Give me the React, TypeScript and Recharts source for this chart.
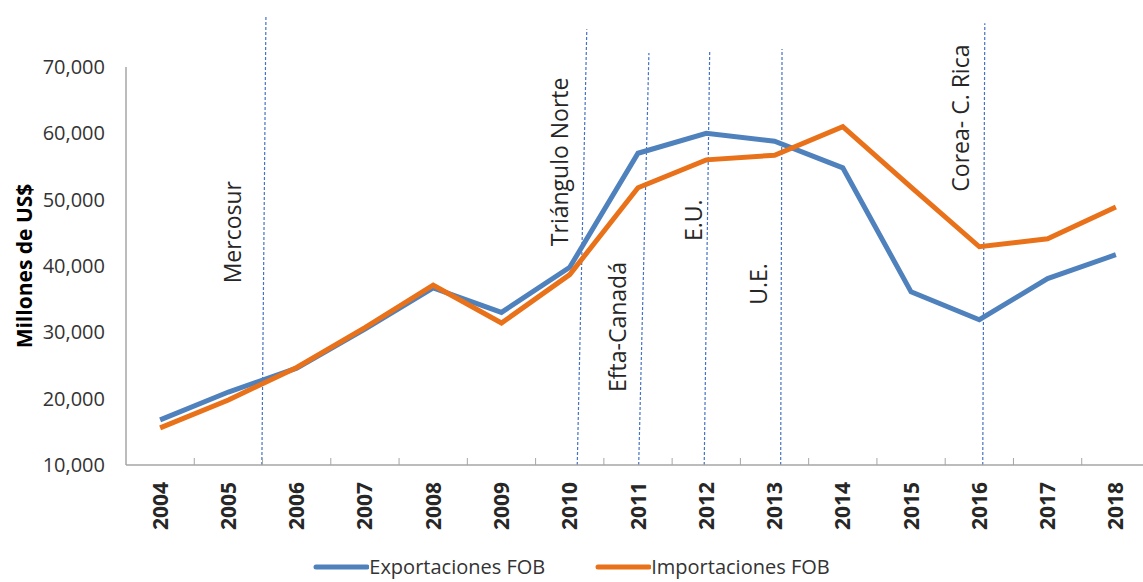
import { LineChart, Line, XAxis, YAxis, ReferenceLine, ReferenceDot, Legend } from 'recharts';

const years = [2004, 2005, 2006, 2007, 2008, 2009, 2010, 2011, 2012, 2013, 2014, 2015, 2016, 2017, 2018];
const exportaciones = [16800, 21000, 24600, 30500, 36700, 33000, 39800, 57000, 60000, 58800, 54800, 36100, 31900, 38100, 41700];
const importaciones = [15600, 19800, 24700, 30700, 37100, 31400, 38700, 51800, 56000, 56700, 61000, 51900, 42900, 44100, 48900];
const yTicks = [10000, 20000, 30000, 40000, 50000, 60000, 70000];

// acuerdos comerciales: fecha aproximada (año fraccional), extremo superior de la línea
const acuerdos = ['Mercosur', 'Triángulo Norte', 'Efta-Canadá', 'E.U.', 'U.E.', 'Corea- C. Rica'];
const acuerdoBase = [2005.49, 2010.11, 2011.01, 2011.97, 2013.09, 2016.05];
const acuerdoTope = [2005.55, 2010.25, 2011.16, 2012.05, 2013.11, 2016.08];
const acuerdoAlto = [77800, 75700, 72100, 72300, 72700, 76600];
// donde va el texto de cada acuerdo
const etiquetaX = [2005.07, 2009.86, 2010.71, 2011.81, 2012.77, 2015.73];
const etiquetaY = [45100, 55700, 30800, 46900, 37300, 62300];

const data = years.map((year, i) => ({
  year,
  exportaciones: exportaciones[i],
  importaciones: importaciones[i],
}));

const BLUE = '#4F81BD';
const ORANGE = '#E8711A';
const FONT = '"Open Sans", sans-serif';

const xTicks = [...years, ...years.slice(0, -1).map(y => y + 0.5)].sort((a, b) => a - b);

function XTick(props: any) {
  const { x, y, payload } = props;
  if (!Number.isInteger(payload.value)) {
    return <line x1={x} y1={y} x2={x} y2={y - 7} stroke="#a6a6a6" strokeWidth={1} />;
  }
  return (
    <text
      x={x}
      y={y + 17}
      dy="0.36em"
      textAnchor="end"
      transform={`rotate(-90, ${x}, ${y + 17})`}
      fontFamily={FONT}
      fontSize={21}
      fontWeight="bold"
      fill="#262626"
    >
      {payload.value}
    </text>
  );
}

function AcuerdoLabel(text: string) {
  return (props: any) => {
    const { viewBox } = props;
    const cx = viewBox.x + viewBox.width / 2;
    const cy = viewBox.y + viewBox.height / 2;
    return (
      <text
        x={cx}
        y={cy}
        dy="0.36em"
        textAnchor="middle"
        transform={`rotate(-90, ${cx}, ${cy})`}
        fontFamily={FONT}
        fontSize={23}
        fill="#262626"
      >
        {text}
      </text>
    );
  };
}

function LegendContent() {
  const items = [
    { name: 'Exportaciones FOB', color: BLUE },
    { name: 'Importaciones FOB', color: ORANGE },
  ];
  return (
    <div style={{ display: 'flex', justifyContent: 'center', gap: 50, height: 30, alignItems: 'center' }}>
      {items.map(it => (
        <div key={it.name} style={{ display: 'flex', alignItems: 'center' }}>
          <svg width={56} height={10}>
            <line x1={3} y1={5} x2={54} y2={5} stroke={it.color} strokeWidth={5} strokeLinecap="round" />
          </svg>
          <span style={{ fontFamily: FONT, fontSize: 20, color: '#333333', lineHeight: '30px' }}>{it.name}</span>
        </div>
      ))}
    </div>
  );
}

export default function App() {
  return (
    <div style={{ width: 1143, height: 582, overflow: 'hidden', background: '#fff' }}>
      <style>{'html,body{margin:0;padding:0;overflow:hidden;background:#fff}'}</style>
      <LineChart width={1160} height={582} data={data} margin={{ top: 67, right: 10, left: 0, bottom: 10 }}>
        <XAxis
          dataKey="year"
          type="number"
          domain={[2003.5, 2018.5]}
          ticks={xTicks}
          interval={0}
          allowDataOverflow
          height={77}
          tickSize={0}
          tickMargin={0}
          tickLine={false}
          tick={<XTick />}
          axisLine={{ stroke: '#a6a6a6', strokeWidth: 1.5 }}
        />
        <YAxis
          type="number"
          domain={[10000, 70000]}
          ticks={yTicks}
          interval={0}
          allowDataOverflow
          width={126}
          tickLine={false}
          tickMargin={15}
          axisLine={{ stroke: '#a6a6a6', strokeWidth: 1.5 }}
          tickFormatter={(v: number) => v.toLocaleString('en-US')}
          tick={{ fontFamily: FONT, fontSize: 20, fill: '#333333' }}
          label={{
            content: (p: any) => {
              const cy = p.viewBox.y + p.viewBox.height / 2;
              return (
                <text
                  x={24}
                  y={cy}
                  dy="0.36em"
                  textAnchor="middle"
                  transform={`rotate(-90, 24, ${cy})`}
                  fontFamily={FONT}
                  fontSize={21}
                  fontWeight="bold"
                  fill="#000"
                >
                  Millones de US$
                </text>
              );
            },
          }}
        />
        {acuerdos.map((name, i) => (
          <ReferenceLine
            key={name}
            segment={[
              { x: acuerdoBase[i], y: 10000 },
              { x: acuerdoTope[i], y: acuerdoAlto[i] },
            ]}
            ifOverflow="visible"
            stroke="#4472C4"
            strokeWidth={1.2}
            strokeDasharray="3 2"
          />
        ))}
        {acuerdos.map((name, i) => (
          <ReferenceDot
            key={'t' + name}
            x={etiquetaX[i]}
            y={etiquetaY[i]}
            r={0}
            fill="none"
            stroke="none"
            ifOverflow="visible"
            label={{ content: AcuerdoLabel(name) }}
          />
        ))}
        <Line
          type="linear"
          dataKey="exportaciones"
          stroke={BLUE}
          strokeWidth={5}
          dot={false}
          isAnimationActive={false}
        />
        <Line
          type="linear"
          dataKey="importaciones"
          stroke={ORANGE}
          strokeWidth={5}
          dot={false}
          isAnimationActive={false}
        />
        <Legend
          verticalAlign="bottom"
          content={<LegendContent />}
          wrapperStyle={{ top: 552, left: 0, width: 1143, height: 30 }}
        />
      </LineChart>
    </div>
  );
}
